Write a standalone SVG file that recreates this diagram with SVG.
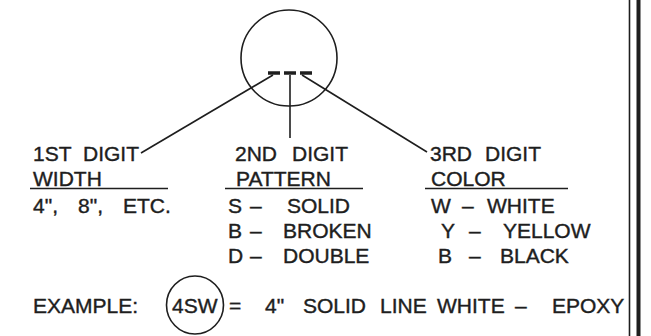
<svg xmlns="http://www.w3.org/2000/svg" width="651" height="336" viewBox="0 0 651 336">
<style>
  .t { font-family: "Liberation Sans", Arial, sans-serif; font-size: 21px; fill: #1e1e1e; stroke: #1e1e1e; stroke-width: 0.4; }
  .ln { stroke: #1e1e1e; stroke-width: 1.6; fill: none; }
  .dash { stroke: #1e1e1e; stroke-width: 3.5; }
</style>
<rect width="651" height="336" fill="#ffffff"/>
<g id="border">
  <line class="ln" x1="629.5" y1="0" x2="629.5" y2="336"/>
  <line x1="638.5" y1="0" x2="638.5" y2="336" stroke="#1e1e1e" stroke-width="4"/>
</g>
<g id="symbol">
  <circle class="ln" cx="289" cy="58" r="48"/>
  <line class="dash" x1="268" y1="73" x2="280" y2="73"/>
  <line class="dash" x1="284" y1="73" x2="296" y2="73"/>
  <line class="dash" x1="300" y1="73" x2="312" y2="73"/>
</g>
<g id="connectors">
  <line class="ln" x1="273" y1="75" x2="141" y2="153"/>
  <line class="ln" x1="290" y1="75" x2="290" y2="138"/>
  <line class="ln" x1="302" y1="75" x2="427" y2="152"/>
</g>
<g id="digit1">
  <text class="t" y="161"><tspan x="33">1ST</tspan><tspan x="83">DIGIT</tspan></text>
  <text class="t" x="33" y="186">WIDTH</text>
  <line class="ln" x1="30" y1="188.5" x2="168" y2="188.5"/>
  <text class="t" y="213"><tspan x="33">4",</tspan><tspan x="78">8",</tspan><tspan x="123">ETC.</tspan></text>
</g>
<g id="digit2">
  <text class="t" y="161"><tspan x="235">2ND</tspan><tspan x="292">DIGIT</tspan></text>
  <text class="t" x="236" y="186">PATTERN</text>
  <line class="ln" x1="225" y1="188.5" x2="363" y2="188.5"/>
  <text class="t" y="213"><tspan x="228">S</tspan><tspan x="250">–</tspan><tspan x="287">SOLID</tspan></text>
  <text class="t" y="238"><tspan x="228">B</tspan><tspan x="250">–</tspan><tspan x="283">BROKEN</tspan></text>
  <text class="t" y="263"><tspan x="228">D</tspan><tspan x="250">–</tspan><tspan x="283">DOUBLE</tspan></text>
</g>
<g id="digit3">
  <text class="t" y="161"><tspan x="430">3RD</tspan><tspan x="485">DIGIT</tspan></text>
  <text class="t" x="431" y="186">COLOR</text>
  <line class="ln" x1="425" y1="188.5" x2="568" y2="188.5"/>
  <text class="t" y="213"><tspan x="431">W</tspan><tspan x="462">–</tspan><tspan x="487">WHITE</tspan></text>
  <text class="t" y="238"><tspan x="441">Y</tspan><tspan x="469">–</tspan><tspan x="503">YELLOW</tspan></text>
  <text class="t" y="263"><tspan x="438">B</tspan><tspan x="469">–</tspan><tspan x="500">BLACK</tspan></text>
</g>
<g id="example">
  <text class="t" x="33" y="313">EXAMPLE:</text>
  <ellipse class="ln" cx="195" cy="305" rx="28.5" ry="29"/>
  <text class="t" x="172" y="313">4SW</text>
  <text class="t" y="313"><tspan x="229">=</tspan><tspan x="265">4"</tspan><tspan x="303">SOLID</tspan><tspan x="380">LINE</tspan><tspan x="437">WHITE</tspan><tspan x="515">–</tspan><tspan x="552">EPOXY</tspan></text>
</g>
</svg>
